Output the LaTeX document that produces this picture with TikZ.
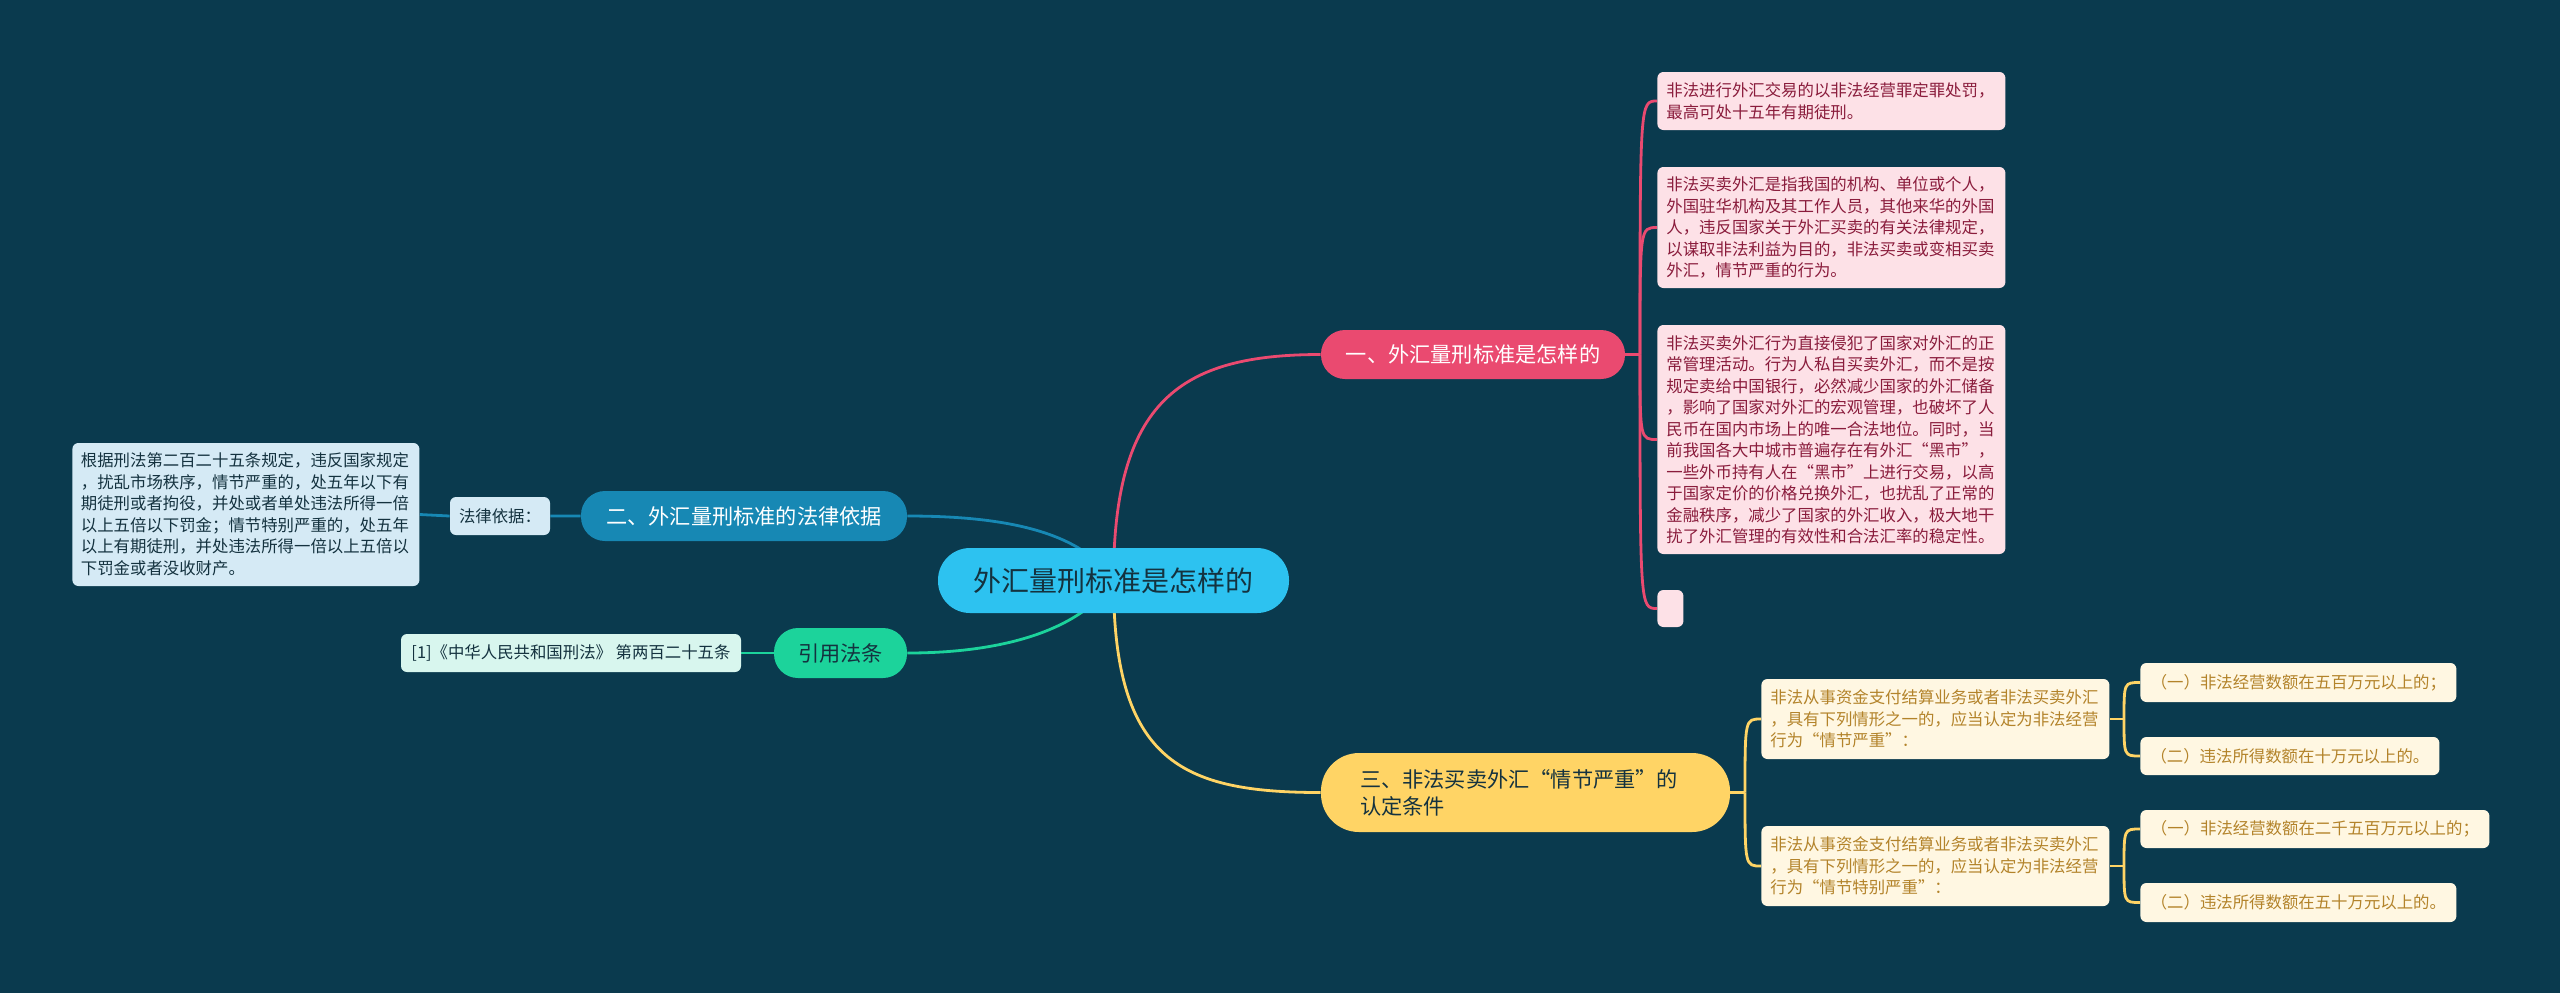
\documentclass[tikz,border=0pt]{standalone}
\usepackage{fontspec}
\setmainfont{Noto Sans CJK SC}

\pgfdeclarelayer{bg}
\pgfdeclarelayer{edges}
\pgfsetlayers{bg,edges,main}

\definecolor{bgnavy}{HTML}{0A3A4E}
\definecolor{rootcyan}{HTML}{2DC2F0}
\definecolor{pinkmain}{HTML}{EA4A70}
\definecolor{bluemain}{HTML}{1788B4}
\definecolor{greenmain}{HTML}{1CD39B}
\definecolor{goldmain}{HTML}{FFD465}
\definecolor{pinkpale}{HTML}{FDE1E7}
\definecolor{pinkink}{HTML}{8A1C3C}
\definecolor{goldpale}{HTML}{FFF7E2}
\definecolor{goldink}{HTML}{B3832A}
\definecolor{bluepale}{HTML}{D5EAF5}
\definecolor{mintpale}{HTML}{D8F6EE}
\definecolor{darkink}{HTML}{14323F}

\begin{document}
\begin{tikzpicture}[x=0.5pt,y=-0.5pt]%
        \tikzset{%
            pill/.style={rounded corners=#1, inner sep=0pt, font=\fontsize{10.6}{13}\selectfont},
            leaf/.style={rounded corners=3pt, inner xsep=4.5pt, inner ysep=0pt, anchor=west,
                         font=\fontsize{8.2}{10.75}\selectfont},
            multi/.style={leaf, align=left, text width=#1},
            pinkleaf/.style={fill=pinkpale, text=pinkink},
            goldleaf/.style={fill=goldpale, text=goldink},
            edge/.style={line width=1.4pt, #1},
        }%
        \useasboundingbox (0,0) rectangle (2560,993);
        \begin{pgfonlayer}{bg}
            \fill[bgnavy] (0,0) rectangle (2560,993);
        \end{pgfonlayer}
        % centre and main branches
        \node[pill=16pt, fill=rootcyan, text=darkink, minimum width=175.5pt, minimum height=32.5pt,
              font=\fontsize{14}{16}\selectfont] (root) at (1113.5,580.5) {外汇量刑标准是怎样的};
        \node[pill=12pt, fill=pinkmain, text=white, minimum width=152pt, minimum height=24.5pt]
              (one) at (1473,354.5) {一、外汇量刑标准是怎样的};
        \node[pill=12pt, fill=bluemain, text=white, minimum width=163pt, minimum height=25pt]
              (two) at (744,516) {二、外汇量刑标准的法律依据};
        \node[pill=12pt, fill=greenmain, text=darkink, minimum width=66.5pt, minimum height=25pt]
              (cite) at (840.5,653) {引用法条};
        \node[pill=19pt, fill=goldmain, text=darkink, inner xsep=19.5pt, text width=165.5pt,
              align=left, minimum height=39.5pt, font=\fontsize{10.6}{13.5}\selectfont]
              (three) at (1525.5,792.5) {三、非法买卖外汇“情节严重”的\\认定条件};
        % left side
        \node[leaf, anchor=center, fill=bluepale, text=darkink, minimum width=49pt, minimum height=19pt]
              (basis) at (500,516) {法律依据：};
        \node[multi=165pt, inner xsep=4.25pt, fill=bluepale, text=darkink, minimum height=71.5pt]
              (article) at (72,514.5) {根据刑法第二百二十五条规定，违反国家规定\\
              ，扰乱市场秩序，情节严重的，处五年以下有\\
              期徒刑或者拘役，并处或者单处违法所得一倍\\
              以上五倍以下罚金；情节特别严重的，处五年\\
              以上有期徒刑，并处违法所得一倍以上五倍以\\
              下罚金或者没收财产。};
        \node[leaf, anchor=center, fill=mintpale, text=darkink, minimum width=170pt, minimum height=19pt]
              (lawref) at (571,653) {[1]《中华人民共和国刑法》 第两百二十五条};
        % pink leaves
        \node[multi=165pt, pinkleaf, minimum height=29pt] (p1) at (1657,101)
              {非法进行外汇交易的以非法经营罪定罪处罚，\\最高可处十五年有期徒刑。};
        \node[multi=165pt, pinkleaf, minimum height=60.5pt] (p2) at (1657,227.5)
              {非法买卖外汇是指我国的机构、单位或个人，\\
              外国驻华机构及其工作人员，其他来华的外国\\
              人，违反国家关于外汇买卖的有关法律规定，\\
              以谋取非法利益为目的，非法买卖或变相买卖\\
              外汇，情节严重的行为。};
        \node[multi=165pt, pinkleaf, minimum height=114.5pt] (p3) at (1657,439.5)
              {非法买卖外汇行为直接侵犯了国家对外汇的正\\
              常管理活动。行为人私自买卖外汇，而不是按\\
              规定卖给中国银行，必然减少国家的外汇储备\\
              ，影响了国家对外汇的宏观管理，也破坏了人\\
              民币在国内市场上的唯一合法地位。同时，当\\
              前我国各大中城市普遍存在有外汇“黑市”，\\
              一些外币持有人在“黑市”上进行交易，以高\\
              于国家定价的价格兑换外汇，也扰乱了正常的\\
              金融秩序，减少了国家的外汇收入，极大地干\\
              扰了外汇管理的有效性和合法汇率的稳定性。};
        \node[leaf, pinkleaf, inner xsep=0pt, minimum width=13pt, minimum height=18.5pt] (p4) at (1657,608.5) {};
        % gold leaves
        \node[multi=165pt, goldleaf, minimum height=40pt] (g1) at (1761,719)
              {非法从事资金支付结算业务或者非法买卖外汇\\
              ，具有下列情形之一的，应当认定为非法经营\\
              行为“情节严重”：};
        \node[multi=165pt, goldleaf, minimum height=40pt] (g2) at (1761,866)
              {非法从事资金支付结算业务或者非法买卖外汇\\
              ，具有下列情形之一的，应当认定为非法经营\\
              行为“情节特别严重”：};
        \node[leaf, goldleaf, minimum width=158pt, minimum height=19.5pt] (g1a) at (2140,682.5) {（一）非法经营数额在五百万元以上的；};
        \node[leaf, goldleaf, minimum width=149.5pt, minimum height=19pt] (g1b) at (2140,756) {（二）违法所得数额在十万元以上的。};
        \node[leaf, goldleaf, minimum width=174.5pt, minimum height=19pt] (g2a) at (2140,829) {（一）非法经营数额在二千五百万元以上的；};
        \node[leaf, goldleaf, minimum width=158pt, minimum height=19.5pt] (g2b) at (2140,902.5) {（二）违法所得数额在五十万元以上的。};
        \coordinate (pj) at (1640,354.5);
        \coordinate (gj) at (1745,792.5);
        \coordinate (g1j) at (2124,719);
        \coordinate (g2j) at (2124,866);
        \begin{pgfonlayer}{edges}
            \draw[edge=pinkmain] (root.center) .. controls +(0,-180) and +(-140,0) .. (one.west);
            \draw[edge=goldmain] (root.center) .. controls +(0,180) and +(-140,0) .. (three.west);
            \draw[edge=bluemain] (two.east) .. controls +(95,0) and +(-33,-50) .. (root.center);
            \draw[edge=greenmain] (cite.east) .. controls +(95,0) and +(-33,50) .. (root.center);
            \draw[edge=bluemain] (two.west) -- (basis.east) (basis.west) -- (article.east);
            \draw[edge=greenmain] (cite.west) -- (lawref.east);
            \draw[edge=pinkmain] (one.east) -- (pj);
            \foreach \n in {p1,p2,p3,p4}
                \draw[edge=pinkmain] (pj) .. controls (pj |- \n.west) .. (\n.west);
            \draw[edge=goldmain] (three.east) -- (gj) (g1.east) -- (g1j) (g2.east) -- (g2j);
            \foreach \n in {g1,g2}
                \draw[edge=goldmain] (gj) .. controls (gj |- \n.west) .. (\n.west);
            \foreach \n in {g1a,g1b}
                \draw[edge=goldmain] (g1j) .. controls (g1j |- \n.west) .. (\n.west);
            \foreach \n in {g2a,g2b}
                \draw[edge=goldmain] (g2j) .. controls (g2j |- \n.west) .. (\n.west);
        \end{pgfonlayer}
\end{tikzpicture}
\end{document}
